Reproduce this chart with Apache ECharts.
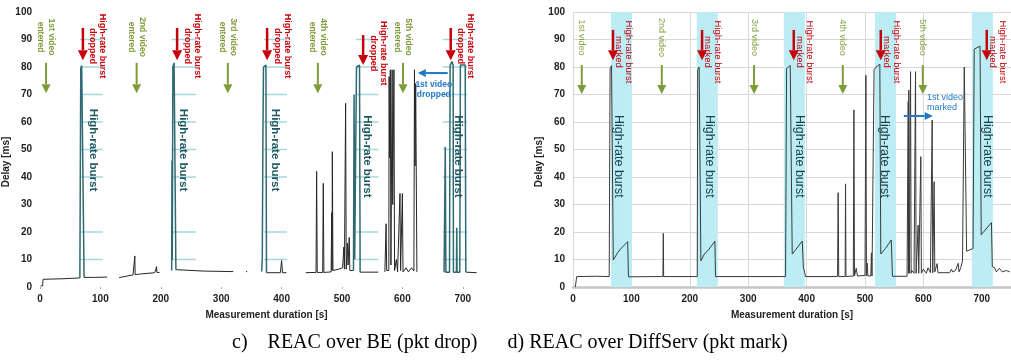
<!DOCTYPE html>
<html>
<head>
<meta charset="utf-8">
<style>
  html, body { margin: 0; padding: 0; background: #fff; }
  #main { width: 1011px; height: 360px; }
</style>
<script src="https://cdn.jsdelivr.net/npm/echarts@6/dist/echarts.min.js"></script>
</head>
<body>
<div id="main"></div>
<script>
const GAP = '-';

// c) REAC over BE (pkt drop): delay trace, [time s, delay ms]
const beTrace = [
  [1, 0.4], [4.5, 0.4], [5, 2.8], [38, 3.0], [40, 3.2], [66, 3.3], [66.5, GAP],
  [73, 3.5], [90, 3.5], [111, 3.6], [112, GAP],
  [131, 3.4], [154, 4.4], [156.5, 4.4], [157, 11.3], [157.5, 4.5], [165, 4.7], [190, 5.2],
  [192.5, 5.2], [193, 7.4], [193.5, 5.3], [198, 5.3], [199, GAP],
  [225, 6.3], [270, 5.8], [320, 5.6], [321, GAP], [341, 5.6], [343, 5.6], [344, GAP],
  [375, 5.2], [398, 5.2], [400, 9.6], [401.5, 5.2], [408, 5.2], [409, GAP],
  [440, 5.2], [457, 5.3], [458, 42], [459, 5.3], [468, 5.3], [469, 37.7], [470, 5.3],
  [482, 5.5], [483, 27], [483.5, 6], [484, 49.2], [485, 6], [495, 6.5], [501, 7],
  [503, 14.5], [504, 6.5], [506, 66.8], [507, 6.5], [509, 16], [510, 8], [512, 18],
  [513, 6], [519, 6], [519.5, GAP],
  [530, 5.4], [560, 5.4], [561, GAP],
  [571, 5.5], [573, 23], [574, 6], [577.5, 6], [578, 76.5], [579, 47], [580, 79], [581, 8],
  [582.5, 8], [583, 79], [584, 30], [585.5, 30], [586, 79], [587, 6], [590, 10], [592, 5.5],
  [596, 34], [597, 6], [599.5, 6], [600, 34], [601, 5.5], [606, 7], [610, 5.5], [615, 7],
  [619, 5.8], [620, 79], [621, 44], [622, 74], [624, 5.5], [625, GAP],
  [705, 5.4], [723, 5.2]
];
// the burst parts of the same trace, drawn in teal
const beBurstTrace = [
  [66, 3.3], [67.5, 79.5], [69, 80.5], [72, 80.3], [73, 3.5], [74, GAP],
  [218, 6], [218.5, 46], [219, 10], [220, 80], [222, 81.5], [224, 81], [225, 6.3], [226, GAP],
  [367, 5.6], [368, 10], [369, 52], [370, 80], [372, 80.7], [374, 80.7], [375, 5.2], [376, GAP],
  [519, 6], [520, 70], [521, 10], [524, 80], [526, 80.7], [529, 80.7], [530, 5.4], [531, GAP],
  [669, 5.4], [671, 51], [672, 5.4], [678, 5.4], [679, 80.5], [682, 82], [684, 80.7],
  [684.5, 5.4], [689.5, 5.4], [690, 21.5], [690.5, 5.4], [695, 5.4], [696, 80.7],
  [704, 80.7], [705, 5.4]
];
const beBurstSpans = [[66, 104], [218, 258], [371, 409], [523, 560], [667, 707]];
const burstGridLevels = [10, 20, 40, 50, 60, 70, 80, 90];

// d) REAC over DiffServ (pkt mark)
const dsTrace = [
  [4, 0], [6, 0], [6.3, 3.8], [40, 3.9], [62, 3.8], [63.5, 79.5], [66, 80.5], [68, 80],
  [69, 9.8], [75, 12], [80, 13.5], [93.6, 16.5], [95, 3.7], [150, 3.8], [154, 3.8],
  [154.6, 19.5], [155.2, 3.8], [212.8, 3.8], [213.5, 79], [216, 80], [218.5, 80.4],
  [219, 9.5], [225, 12], [232, 13.5], [243, 16.7], [244, 3.8], [300, 3.8], [364, 3.8],
  [365.7, 79.5], [372, 80.5], [374.5, 80.7], [375.4, 12], [381, 13.5], [392.5, 16.7],
  [394.5, 7.2], [397, 5], [398, 3.8], [453, 3.8], [454, 34.3], [455, 3.8], [466, 3.8],
  [466.7, 37.5], [467.4, 3.8], [480, 4], [481, 64.4], [482, 4], [485, 6.8], [487, 4],
  [500, 4.2], [501.5, 77], [502.5, 4], [503.7, 8.7], [505, 4], [510, 4], [511, 12.4],
  [512, 4], [514, 4.5], [515.5, 79], [519, 80], [525.4, 81], [527, 12], [535, 14],
  [545, 17.1], [547, 3.9], [572, 3.9], [574, 67.4], [574.5, 5], [575, 71.6], [576, 5],
  [578, 78.3], [579, 5], [580, 6], [584, 5], [586.5, 78.3], [587.5, 5], [591, 22.5],
  [592, 5], [595.6, 47.4], [596.5, 5], [600, 6.5], [605, 5], [608, 7], [612, 5.2],
  [615, 60.7], [616, 5.2], [618.4, 38.3], [619.5, 5.5], [623.5, 8.5], [625, 5.2],
  [645, 5.2], [648, 6.5], [650, 5.5], [655, 6], [659.5, 8.6], [661, 5.5], [664, 7],
  [667, 9.5], [670, 80], [672, 80.5], [674, 13], [685, 14], [687, 86.5], [697, 87.6],
  [699, 19], [716.5, 23.4], [718, 7.4], [722, 7], [725, 5.5], [730, 6.8], [735, 5.5],
  [742, 6], [748, 5.5]
];
const dsBurstBands = [[65, 101], [212, 248], [361, 397], [517, 553], [683, 719]];

// annotations (time positions in s)
const videoNames = ['1st video', '2nd video', '3rd video', '4th video', '5th video'];
const beVideoT = [10, 160, 311, 460, 601];
const beDropT = [71, 227, 376, 535, 680];
const beBurstLabelT = [88, 237, 389, 541, 692];
const dsVideoT = [15, 152, 310, 462, 599];
const dsMarkT = [68.5, 221, 378, 527, 708.5];
const dsBurstLabelT = [77, 234.5, 387, 534, 709];

const FONT = 'Liberation Sans, Arial, sans-serif';
const GREEN = '#7f9b39';
const RED = '#c8000a';
const BLUE = '#1f78c6';
const TEAL = '#1f5861';

function xAxisCfg(grid, withLine) {
  return {
    type: 'value', gridIndex: grid, min: 0, max: 750, interval: 100,
    name: 'Measurement duration [s]', nameLocation: 'middle', nameGap: 23,
    nameTextStyle: { color: '#222', fontSize: 10, fontWeight: 'bold', fontFamily: FONT },
    axisLine: withLine ? { show: true, lineStyle: { color: '#c6c6c6', width: 2.5 } } : { show: false },
    axisTick: withLine ? { show: false } : { show: true, length: 2, lineStyle: { color: '#aaa' } },
    axisLabel: { color: '#222', fontSize: 10, fontWeight: 'bold', fontFamily: FONT, margin: 7, showMaxLabel: false },
    splitLine: withLine ? { show: true, lineStyle: { color: '#d8d8d8' } } : { show: false }
  };
}
function yAxisCfg(grid, withGrid) {
  return {
    type: 'value', gridIndex: grid, min: 0, max: 100, interval: 10,
    name: 'Delay [ms]', nameLocation: 'middle', nameGap: 22,
    nameTextStyle: { color: '#222', fontSize: 10, fontWeight: 'bold', fontFamily: FONT, padding: [0, 25, 0, 0] },
    axisLine: { show: false }, axisTick: { show: false },
    axisLabel: { color: '#222', fontSize: 10, fontWeight: 'bold', fontFamily: FONT, margin: 8 },
    splitLine: withGrid ? { show: true, lineStyle: { color: '#d8d8d8' } } : { show: false }
  };
}

const chart = echarts.init(document.getElementById('main'));
chart.setOption({
  animation: false,
  backgroundColor: '#fff',
  grid: [
    { left: 40, top: 12, width: 453, height: 275 },
    { left: 573, top: 12, width: 438, height: 275 }
  ],
  xAxis: [xAxisCfg(0, false), xAxisCfg(1, true)],
  yAxis: [yAxisCfg(0, false), yAxisCfg(1, true)],
  series: [
    {
      type: 'custom', xAxisIndex: 0, yAxisIndex: 0, silent: true, z: 1,
      data: beBurstSpans.flatMap(s => burstGridLevels.map(l => [s[0], s[1], l])),
      encode: { x: [0, 1], y: 2 },
      renderItem(params, api) {
        const a = api.coord([api.value(0), api.value(2)]);
        const b = api.coord([api.value(1), api.value(2)]);
        return { type: 'line', shape: { x1: a[0], y1: a[1], x2: b[0], y2: b[1] },
                 style: { stroke: '#a2d8de', lineWidth: 1.5 } };
      }
    },
    {
      type: 'line', xAxisIndex: 0, yAxisIndex: 0, data: beTrace, showSymbol: false, z: 3,
      lineStyle: { color: '#262626', width: 1 }
    },
    {
      type: 'line', xAxisIndex: 0, yAxisIndex: 0, data: beBurstTrace, showSymbol: false, z: 3,
      lineStyle: { color: '#2f6a72', width: 1.5 }
    },
    {
      type: 'line', xAxisIndex: 1, yAxisIndex: 1, data: dsTrace, showSymbol: false, z: 3,
      lineStyle: { color: '#3a3a3a', width: 1 },
      markArea: {
        silent: true,
        itemStyle: { color: '#bcedf5' },
        data: dsBurstBands.map(b => [{ xAxis: b[0] }, { xAxis: b[1] }])
      }
    }
  ]
});

// ---- annotations ----
const toPx = (g, t, d) => chart.convertToPixel({ gridIndex: g }, [t, d]);

function arrow(p0, p1, color, width, head) {
  const dx = p1[0] - p0[0], dy = p1[1] - p0[1];
  const len = Math.sqrt(dx * dx + dy * dy);
  const ux = dx / len, uy = dy / len, nx = -uy, ny = ux;
  const bx = p1[0] - ux * head, by = p1[1] - uy * head;
  return [
    { type: 'line', z: 100, shape: { x1: p0[0], y1: p0[1], x2: bx, y2: by },
      style: { stroke: color, lineWidth: width } },
    { type: 'polygon', z: 100, shape: { points: [[p1[0], p1[1]],
        [bx + nx * head / 2, by + ny * head / 2], [bx - nx * head / 2, by - ny * head / 2]] },
      style: { fill: color } }
  ];
}
function label(p, text, color, size, weight, lh, rot) {
  return { type: 'text', z: 100, x: p[0], y: p[1], rotation: rot,
    style: { text, fill: color, fontSize: size, fontWeight: weight, fontFamily: FONT,
             align: 'center', verticalAlign: 'middle', lineHeight: lh } };
}
const CW = -Math.PI / 2;
const els = [];

// left chart
beVideoT.forEach((t, i) => {
  els.push(...arrow(toPx(0, t, 81.5), toPx(0, t, 70.5), GREEN, 2, 9));
  els.push(label(toPx(0, t, 90.9), videoNames[i] + '\nentered', GREEN, 8.5, 'bold', 11, CW));
});
beDropT.forEach((t, i) => {
  const top = i === 3 ? 91.6 : 94.2, tip = i === 3 ? 80.7 : 82.5;
  els.push(...arrow(toPx(0, t, top), toPx(0, t, tip), RED, 2.5, 10));
  const p = toPx(0, t, i === 3 ? 85 : 87.6);
  els.push(label([p[0] + 15, p[1]], 'High-rate burst\ndropped', RED, 9, 'bold', 10, CW));
});
beBurstLabelT.forEach((t, i) => {
  els.push(label(toPx(0, t, i >= 3 ? 47.5 : 49.8), 'High-rate burst', TEAL, 11.5, 'bold', 13, CW));
});
els.push(...arrow(toPx(0, 675, 77.8), toPx(0, 625.5, 77.8), BLUE, 2, 8));
els.push(label(toPx(0, 652, 71.6), '1st video\ndropped', BLUE, 8.5, 'bold', 10, 0));

// right chart
dsVideoT.forEach((t, i) => {
  els.push(...arrow(toPx(1, t, 80.7), toPx(1, t, 70.2), GREEN, 2, 9));
  els.push(label(toPx(1, t, 90.7), videoNames[i], '#86a443', 9, 'normal', 11, CW));
});
dsMarkT.forEach((t) => {
  els.push(...arrow(toPx(1, t, 93.5), toPx(1, t, 82.5), RED, 2.5, 10));
  const p = toPx(1, t, 85.5);
  els.push(label([p[0] + 11, p[1]], 'High-rate burst\nmarked', RED, 9.5, 'normal', 10, CW));
});
dsBurstLabelT.forEach((t) => {
  els.push(label(toPx(1, t, 47.5), 'High-rate burst', '#173f47', 12.5, 'normal', 14, CW));
});
els.push(...arrow(toPx(1, 566.5, 62.2), toPx(1, 616, 62.2), BLUE, 2, 8));
const bp = toPx(1, 606, 67);
els.push({ type: 'text', z: 100, x: bp[0], y: bp[1],
  style: { text: '1st video\nmarked', fill: BLUE, fontSize: 9, fontFamily: FONT,
           align: 'left', verticalAlign: 'middle', lineHeight: 10 } });

// caption
els.push({ type: 'text', z: 100, x: 232, y: 343,
  style: { text: 'c)    REAC over BE (pkt drop)      d) REAC over DiffServ (pkt mark)',
           fill: '#000', fontSize: 20, fontFamily: 'Liberation Serif, Times New Roman, serif',
           align: 'left', verticalAlign: 'middle' } });

chart.setOption({ graphic: els });
</script>
</body>
</html>
